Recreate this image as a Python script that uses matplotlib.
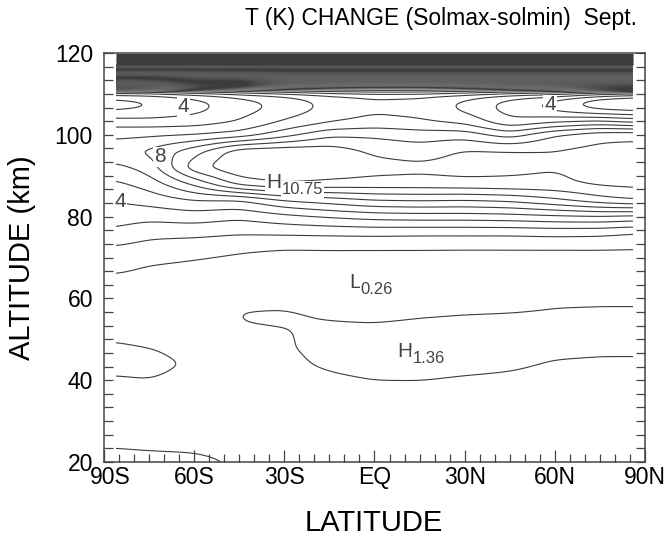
import numpy as np
import matplotlib
matplotlib.use("Agg")
import matplotlib.pyplot as plt
import matplotlib.transforms as mtransforms
from matplotlib.ticker import MultipleLocator, FixedLocator

plt.rcParams['font.family'] = ['Liberation Sans', 'DejaVu Sans']

# ---------------- data (temperature change, K) ----------------
lat_nodes = [-86, -75, -60, -45, -30, -15, 0, 15, 30, 45, 60, 75, 86]
alt_nodes = [20, 24, 28, 32, 36, 40, 44, 48, 52, 56, 60, 64, 68, 72, 76, 80,
             84, 88, 92, 96, 100, 103, 106, 108, 110, 112, 116, 120]

t_86S = [1.25, 0.95, 0.80, 0.80, 0.88, 0.95, 1.13, 1.05, 0.90, 0.72, 0.62, 0.78, 1.22, 1.80,
         2.75, 3.45, 4.05, 4.80, 5.70, 6.80, 5.70, 4.60, 2.90, 2.65, 3.60, 12, 30, 50]
t_75S = [1.22, 0.90, 0.75, 0.75, 0.85, 0.99, 1.14, 1.00, 0.82, 0.65, 0.55, 0.70, 0.98, 1.55,
         2.30, 3.30, 4.40, 5.40, 6.40, 7.15, 5.85, 4.50, 3.10, 2.95, 3.80, 12, 30, 50]
t_60S = [1.15, 0.88, 0.72, 0.72, 0.78, 0.86, 0.93, 0.86, 0.78, 0.62, 0.50, 0.62, 0.85, 1.30,
         2.30, 3.50, 5.00, 7.20, 9.70, 8.60, 6.00, 4.60, 3.70, 3.65, 4.60, 12.5, 30, 50]
t_45S = [0.92, 0.78, 0.68, 0.68, 0.70, 0.75, 0.80, 0.86, 0.95, 1.03, 0.84, 0.50, 0.72, 1.10,
         2.10, 3.20, 4.90, 9.40, 10.85, 10.65, 6.40, 5.10, 4.60, 4.55, 5.50, 12.5, 30, 50]
t_30S = [0.75, 0.68, 0.62, 0.62, 0.68, 0.75, 0.85, 0.93, 0.98, 1.07, 0.84, 0.45, 0.60, 0.97,
         2.15, 3.70, 6.00, 10.00, 10.95, 10.75, 7.60, 6.20, 5.40, 5.35, 6.20, 13, 30, 50]
t_15S = [0.72, 0.66, 0.62, 0.62, 0.68, 0.88, 1.10, 1.20, 1.10, 0.95, 0.55, 0.30, 0.55, 1.00,
         2.20, 4.10, 6.50, 9.70, 10.80, 10.60, 8.80, 7.00, 6.35, 6.30, 7.00, 13, 30, 50]
t_EQ = [0.70, 0.65, 0.60, 0.62, 0.75, 1.00, 1.25, 1.32, 1.15, 0.85, 0.45, 0.26, 0.50, 1.00,
        2.25, 4.40, 7.00, 9.60, 10.40, 9.80, 8.80, 7.40, 6.85, 6.80, 7.40, 13, 30, 50]
t_15N = [0.70, 0.65, 0.62, 0.65, 0.78, 1.00, 1.32, 1.36, 1.20, 0.95, 0.50, 0.32, 0.50, 1.00,
         2.20, 4.50, 7.10, 9.60, 10.25, 9.50, 8.50, 7.20, 6.65, 6.60, 7.40, 13, 30, 50]
t_30N = [0.70, 0.65, 0.62, 0.65, 0.75, 0.92, 1.20, 1.30, 1.20, 1.02, 0.55, 0.35, 0.52, 0.98,
         2.20, 4.50, 7.00, 9.70, 10.40, 10.10, 8.60, 6.80, 5.85, 5.80, 6.80, 13, 30, 50]
t_45N = [0.70, 0.65, 0.62, 0.65, 0.75, 0.88, 1.10, 1.25, 1.20, 1.05, 0.65, 0.40, 0.55, 0.98,
         2.20, 4.60, 7.20, 9.80, 10.20, 10.10, 7.50, 5.30, 4.60, 4.60, 6.00, 13, 30, 50]
t_60N = [0.70, 0.65, 0.62, 0.65, 0.72, 0.80, 0.95, 1.15, 1.20, 1.10, 0.85, 0.45, 0.60, 0.97,
         2.30, 4.80, 7.80, 9.80, 10.05, 10.05, 9.00, 6.00, 3.80, 3.60, 5.50, 13, 30, 50]
t_75N = [0.70, 0.65, 0.62, 0.64, 0.70, 0.78, 0.92, 1.10, 1.20, 1.12, 0.88, 0.55, 0.65, 0.97,
         2.25, 4.90, 8.60, 10.20, 10.30, 10.30, 9.70, 6.50, 3.00, 2.10, 4.50, 13, 30, 50]
t_86N = [0.70, 0.65, 0.62, 0.64, 0.70, 0.78, 0.92, 1.10, 1.20, 1.12, 0.88, 0.55, 0.65, 0.95,
         2.00, 4.70, 9.00, 10.30, 10.30, 10.30, 9.80, 6.00, 2.80, 1.60, 4.00, 13, 30, 50]

contour_levels = list(range(1, 51))

x_ticks = [-90, -60, -30, 0, 30, 60, 90]
x_labels = ["90S", "60S", "30S", "EQ", "30N", "60N", "90N"]
y_ticks = [20, 40, 60, 80, 100, 120]

labels_plain = [("4", -63.6, 106.9), ("8", -71.4, 94.6), ("4", -84.7, 83.6), ("4", 58.4, 107.3)]
extrema = [("H", "10.75", -36.0, 88.4), ("L", "0.26", -8.5, 63.8), ("H", "1.36", 7.5, 47.0)]

# ---------------- build smooth field for drawing ----------------
cols = np.array([t_86S, t_75S, t_60S, t_45S, t_30S, t_15S, t_EQ,
                 t_15N, t_30N, t_45N, t_60N, t_75N, t_86N])
lat_f = np.linspace(lat_nodes[0], lat_nodes[-1], 345)
alt_f = np.linspace(alt_nodes[0], alt_nodes[-1], 501)
A = np.array([np.interp(alt_f, alt_nodes, c) for c in cols])
Z = np.array([np.interp(lat_f, lat_nodes, A[:, j]) for j in range(len(alt_f))])


def blur(Z, s, axis):
    r = int(3 * s)
    k = np.exp(-0.5 * (np.arange(-r, r + 1) / s) ** 2)
    k /= k.sum()
    pad = [(0, 0), (0, 0)]
    pad[axis] = (r, r)
    Zp = np.pad(Z, pad, mode='edge')
    return np.apply_along_axis(lambda v: np.convolve(v, k, mode='valid'), axis, Zp)


Z = blur(Z, 4, 0)
Z = blur(Z, 6, 1)

# ---------------- figure ----------------
fig = plt.figure(figsize=(6.69, 5.41), dpi=100)
ax = fig.add_axes([104 / 669, 1 - 462 / 541, 541 / 669, 409 / 541])

line_col = '#3c3c3c'
ax.contour(lat_f, alt_f, Z, levels=contour_levels, colors=line_col, linewidths=0.8)

ax.set_xlim(-90, 90)
ax.set_ylim(20, 120)
ax.xaxis.set_major_locator(FixedLocator(x_ticks))
ax.set_xticklabels(x_labels)
ax.xaxis.set_minor_locator(MultipleLocator(5))
ax.yaxis.set_major_locator(FixedLocator(y_ticks))
ax.yaxis.set_minor_locator(MultipleLocator(20 / 6))

ax.tick_params(axis='x', which='major', direction='in', length=9, width=0.9, top=False,
               labelsize=16.5, pad=3, color='#444444')
ax.tick_params(axis='x', which='minor', direction='in', length=5.5, width=0.9, top=False,
               color='#444444')
ax.tick_params(axis='y', which='both', direction='in', length=6.5, width=0.9, left=True,
               right=True, labelsize=16.5, pad=8, color='#444444')
for sp in ax.spines.values():
    sp.set_linewidth(1.1)
    sp.set_color('#444444')

# nudge the first x label right as in the original, so it clears the "20"
first = ax.xaxis.get_major_ticks()[0].label1
first.set_transform(first.get_transform() +
                    mtransforms.ScaledTranslation(6 / 100, 0, fig.dpi_scale_trans))

for txt, la, al in labels_plain:
    ax.text(la, al, txt, fontsize=15, color='#444444', ha='center', va='center',
            bbox=dict(facecolor='white', edgecolor='none', pad=0.6))

for letter, val, la, al in extrema:
    ax.text(la, al, letter, fontsize=15, color='#444444', ha='left', va='center',
            bbox=dict(facecolor='white', edgecolor='none', pad=0.6))
    dx = 11 if letter == 'H' else 8.5
    ax.annotate(val, xy=(la, al), xytext=(dx, -5), textcoords='offset points',
                fontsize=12, color='#444444', ha='left', va='center',
                bbox=dict(facecolor='white', edgecolor='none', pad=0.6))

fig.text(441 / 669, 1 - 18 / 541, "T (K) CHANGE (Solmax-solmin)  Sept.", fontsize=16.5,
         ha='center', va='center')
fig.text(374 / 669, 1 - 523 / 541, "LATITUDE", fontsize=21, ha='center', va='center')
fig.text(22 / 669, 1 - 258 / 541, "ALTITUDE (km)", fontsize=21, ha='center', va='center',
         rotation=90)

fig.savefig("out.png", dpi=100)
